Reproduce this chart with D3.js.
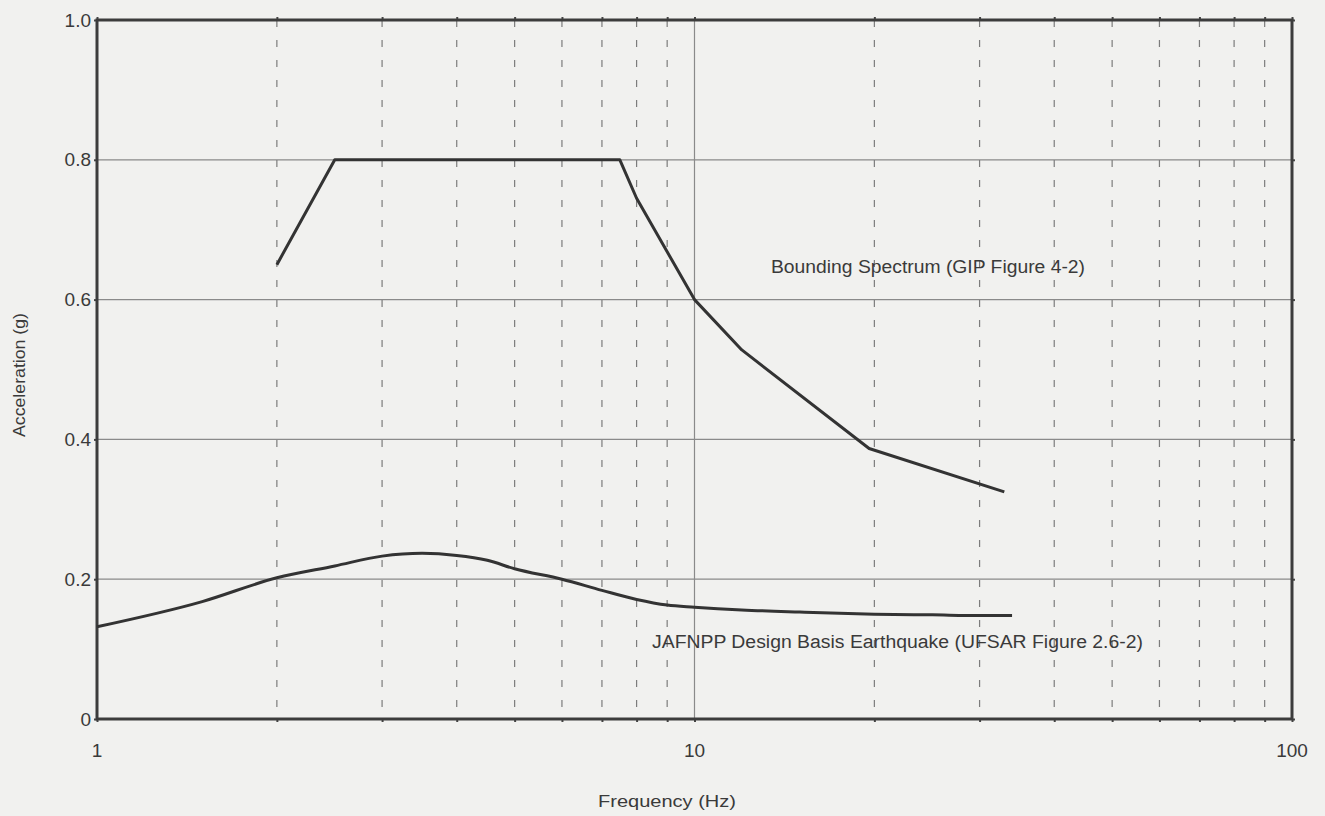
<!DOCTYPE html>
<html>
<head>
<meta charset="utf-8">
<script src="https://cdnjs.cloudflare.com/ajax/libs/d3/7.8.5/d3.min.js"></script>
<style>
  body { margin: 0; background: #f1f1ef; }
  svg { display: block; }
  text { font-family: "Liberation Sans", Arial, sans-serif; fill: #3a3a3a; }
</style>
</head>
<body>
<svg id="chart"></svg>
<script>
// bounding spectrum (GIP figure 4-2)
var boundFreq = [2, 2.5, 7.5, 8, 10, 12, 19.6, 33];
var boundAcc  = [0.65, 0.8, 0.8, 0.745, 0.6, 0.528, 0.387, 0.325];

// JAFNPP design basis earthquake
var dbeFreq = [1, 1.5, 2, 2.5, 3, 3.5, 4, 4.5, 5, 6, 7, 8, 9, 10, 12, 15, 20, 25, 30, 34];
var dbeAcc  = [0.132, 0.168, 0.202, 0.219, 0.233, 0.237, 0.234, 0.227, 0.215, 0.2, 0.184, 0.171, 0.163, 0.16, 0.156, 0.153, 0.15, 0.149, 0.148, 0.148];

var xTicks = [1, 10, 100];
var xMinor = [2, 3, 4, 5, 6, 7, 8, 9, 20, 30, 40, 50, 60, 70, 80, 90];
var yTicks = [0, 0.2, 0.4, 0.6, 0.8, 1.0];
var yLabels = ["0", "0.2", "0.4", "0.6", "0.8", "1.0"];

var W = 1325, H = 816,
	margin = { top: 20, right: 33, bottom: 97, left: 97 },
	w = W - margin.left - margin.right,
	h = H - margin.top - margin.bottom;

var svg = d3.select("#chart")
			.attr("width", W)
			.attr("height", H);

var g = svg.append("g")
		   .attr("transform", "translate(" + margin.left + "," + margin.top + ")");

var x = d3.scaleLog().domain([1, 100]).range([0, w]);
var y = d3.scaleLinear().domain([0, 1]).range([h, 0]);

// horizontal grid
g.selectAll(".hgrid")
 .data(yTicks.slice(1, -1))
 .enter()
 .append("line")
 .attr("x1", 0).attr("x2", w)
 .attr("y1", function(d) { return y(d); })
 .attr("y2", function(d) { return y(d); })
 .attr("stroke", "#8a8a8a")
 .attr("stroke-width", 1.2);

// dashed vertical grid
g.selectAll(".vgrid")
 .data(xMinor)
 .enter()
 .append("line")
 .attr("x1", function(d) { return x(d); })
 .attr("x2", function(d) { return x(d); })
 .attr("y1", 0).attr("y2", h)
 .attr("stroke", "#7c7c7c")
 .attr("stroke-width", 1.2)
 .attr("stroke-dasharray", "7,13");

// solid line at 10 Hz
g.append("line")
 .attr("x1", x(10)).attr("x2", x(10))
 .attr("y1", 0).attr("y2", h)
 .attr("stroke", "#8a8a8a")
 .attr("stroke-width", 1.2);

// axes (ticks on all four sides)
var allX = xTicks.concat(xMinor);
var tickStyle = function(sel) {
	sel.select(".domain").remove();
	sel.selectAll(".tick line").attr("stroke", "#444").attr("stroke-width", 2);
	sel.selectAll(".tick text").remove();
};
g.append("g").attr("transform", "translate(0," + h + ")")
 .call(d3.axisBottom(x).tickValues(allX).tickSizeInner(3).tickSizeOuter(0)).call(tickStyle);
g.append("g")
 .call(d3.axisTop(x).tickValues(allX).tickSizeInner(3).tickSizeOuter(0)).call(tickStyle);
g.append("g")
 .call(d3.axisLeft(y).tickValues(yTicks).tickSizeInner(3).tickSizeOuter(0)).call(tickStyle);
g.append("g").attr("transform", "translate(" + w + ",0)")
 .call(d3.axisRight(y).tickValues(yTicks).tickSizeInner(3).tickSizeOuter(0)).call(tickStyle);

// frame
g.append("rect")
 .attr("width", w).attr("height", h)
 .attr("fill", "none")
 .attr("stroke", "#3c3c3c")
 .attr("stroke-width", 3);

// tick labels
g.selectAll(".ylab")
 .data(yTicks)
 .enter()
 .append("text")
 .attr("x", -6)
 .attr("y", function(d) { return y(d); })
 .attr("dy", "0.35em")
 .attr("text-anchor", "end")
 .attr("font-size", "19px")
 .text(function(d, i) { return yLabels[i]; });

g.selectAll(".xlab")
 .data(xTicks)
 .enter()
 .append("text")
 .attr("x", function(d) { return x(d); })
 .attr("y", h + 38)
 .attr("text-anchor", "middle")
 .attr("font-size", "19px")
 .text(function(d) { return d; });

// axis titles
svg.append("text")
   .attr("x", 667).attr("y", 807)
   .attr("text-anchor", "middle")
   .attr("font-size", "17px")
   .attr("textLength", 138)
   .attr("lengthAdjust", "spacingAndGlyphs")
   .text("Frequency (Hz)");

svg.append("text")
   .attr("transform", "translate(25,375) rotate(-90)")
   .attr("text-anchor", "middle")
   .attr("font-size", "16px")
   .attr("textLength", 124)
   .attr("lengthAdjust", "spacingAndGlyphs")
   .text("Acceleration (g)");

// curves
var line = d3.line()
			 .x(function(d) { return x(d[0]); })
			 .y(function(d) { return y(d[1]); });

g.append("path")
 .datum(d3.zip(boundFreq, boundAcc))
 .attr("d", line)
 .attr("fill", "none")
 .attr("stroke", "#333")
 .attr("stroke-width", 3)
 .attr("stroke-linejoin", "round");

g.append("path")
 .datum(d3.zip(dbeFreq, dbeAcc))
 .attr("d", line.curve(d3.curveMonotoneX))
 .attr("fill", "none")
 .attr("stroke", "#333")
 .attr("stroke-width", 3)
 .attr("stroke-linejoin", "round");

// curve annotations
svg.append("text")
   .attr("x", 771).attr("y", 273)
   .attr("font-size", "18px")
   .attr("textLength", 314)
   .attr("lengthAdjust", "spacingAndGlyphs")
   .text("Bounding Spectrum (GIP Figure 4-2)");

svg.append("text")
   .attr("x", 652).attr("y", 648)
   .attr("font-size", "18px")
   .attr("textLength", 491)
   .attr("lengthAdjust", "spacingAndGlyphs")
   .text("JAFNPP Design Basis Earthquake (UFSAR Figure 2.6-2)");
</script>
</body>
</html>
